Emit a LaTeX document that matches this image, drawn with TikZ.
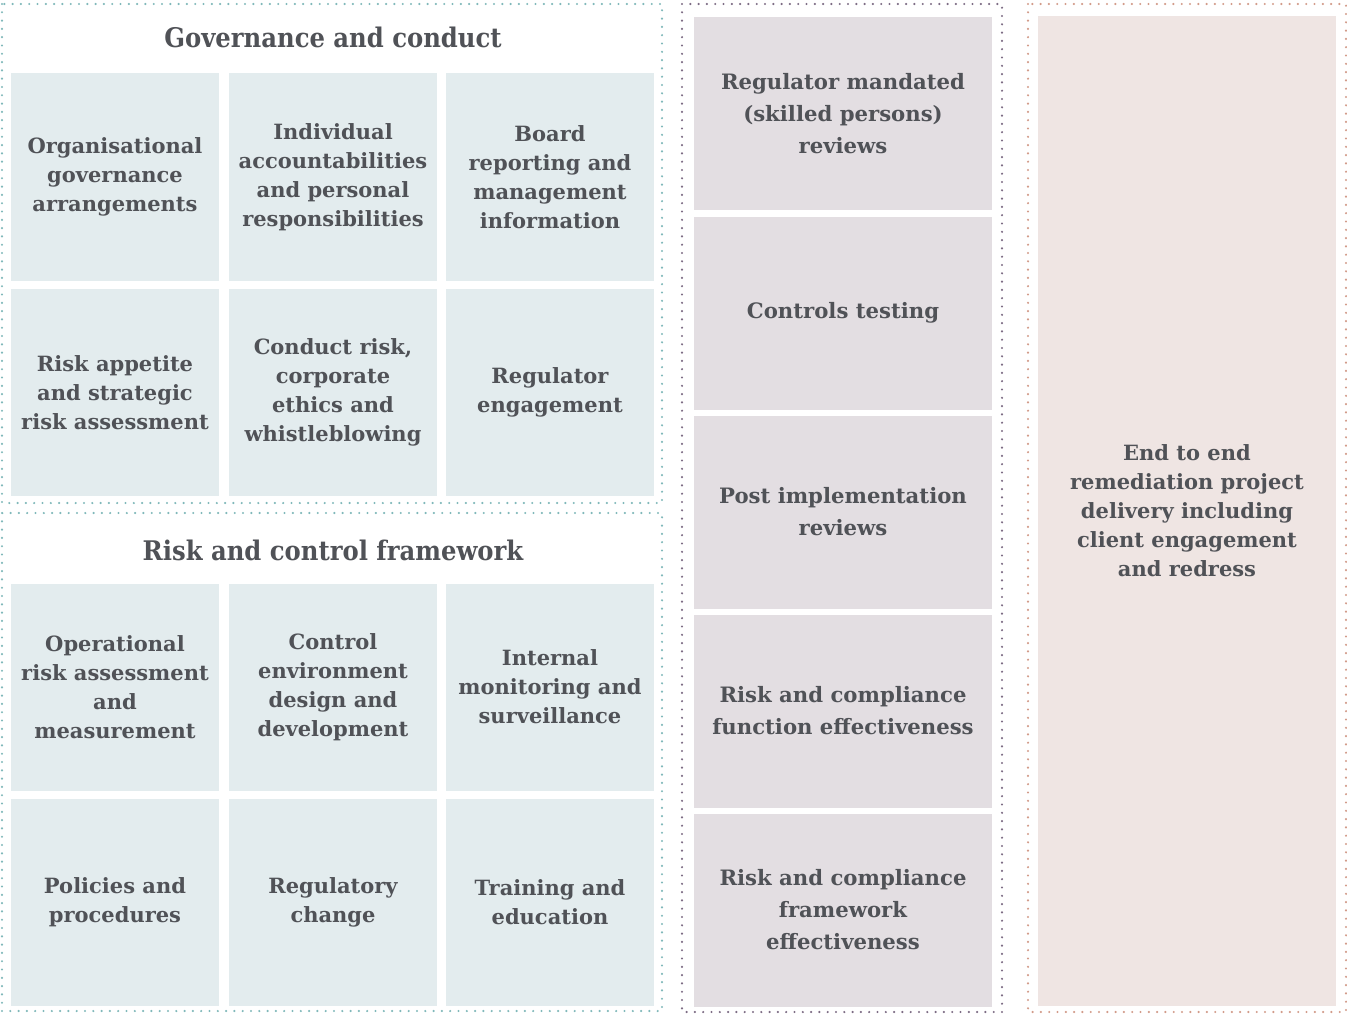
\documentclass[tikz,border=0pt]{standalone}
\usepackage{fontspec}
\setmainfont{DejaVu Serif}
\newfontfamily\headfont{DejaVu Serif Condensed}
\usetikzlibrary{positioning}
\definecolor{gvteal}{RGB}{128,184,186}
\definecolor{gvtealfill}{RGB}{227,236,238}
\definecolor{gvpurple}{RGB}{125,108,132}
\definecolor{gvpurplefill}{RGB}{227,222,226}
\definecolor{gvpink}{RGB}{210,155,138}
\definecolor{gvpinkfill}{RGB}{239,229,227}
\definecolor{gvtext}{RGB}{80,82,87}

\begin{document}
\begin{tikzpicture}[x=1pt, y=-1pt,
    frame/.style={line width=2.4pt, dash pattern=on 0pt off 8.3pt, line cap=round},
    cell/.style={rectangle, fill=gvtealfill, minimum width=208pt, minimum height=207pt, inner sep=0pt, align=center, text=gvtext, font=\fontsize{21}{29}\selectfont\bfseries},
    review/.style={cell, fill=gvpurplefill, minimum width=298pt, minimum height=193pt, font=\fontsize{21.2}{32}\selectfont\bfseries},
    heading/.style={text=gvtext, font=\headfont\fontsize{27}{32}\selectfont\bfseries}]

\useasboundingbox (0,0) rectangle (1347,1014);

% Frames
\draw[frame, gvteal] (2,4) rectangle (662,503);
\draw[frame, gvteal] (2,513) rectangle (662,1011);
\draw[frame, gvpurple] (682,4) rectangle (1002,1012);
\draw[frame, gvpink] (1028,4) rectangle (1346,1012);

% Governance and conduct
\node[heading] (govtitle) at (333,37) {Governance and conduct};
\node[cell] (orggov) at (115,177) {Organisational\\governance\\arrangements};
\node[cell] (indacc) at (333,177) {Individual\\accountabilities\\and personal\\responsibilities};
\node[cell] (board) at (550,177) {Board\\reporting and\\management\\information};
\node[cell] (appetite) at (115,392.5) {Risk appetite\\and strategic\\risk assessment};
\node[cell] (conduct) at (333,392.5) {Conduct risk,\\corporate\\ethics and\\whistleblowing};
\node[cell] (regeng) at (550,392.5) {Regulator\\engagement};

% Risk and control framework
\node[heading] (risktitle) at (333,550) {Risk and control framework};
\node[cell] (oprisk) at (115,687) {Operational\\risk assessment\\and\\measurement};
\node[cell] (ctrlenv) at (333,687) {Control\\environment\\design and\\development};
\node[cell] (monitor) at (550,687) {Internal\\monitoring and\\surveillance};
\node[cell] (policies) at (115,902) {Policies and\\procedures};
\node[cell] (regchange) at (333,902) {Regulatory\\change};
\node[cell] (training) at (550,902) {Training and\\education};

% Reviews
\node[review] (skilled) at (843,113.5) {Regulator mandated\\(skilled persons)\\reviews};
\node[review] (testing) at (843,313) {Controls testing};
\node[review] (postimpl) at (843,512) {Post implementation\\reviews};
\node[review] (function) at (843,711) {Risk and compliance\\function effectiveness};
\node[review] (framework) at (843,910) {Risk and compliance\\framework\\effectiveness};

% Remediation
\node[cell, fill=gvpinkfill, minimum width=298pt, minimum height=989pt] (remed) at (1187,511) {End to end\\remediation project\\delivery including\\client engagement\\and redress};
\end{tikzpicture}
\end{document}
